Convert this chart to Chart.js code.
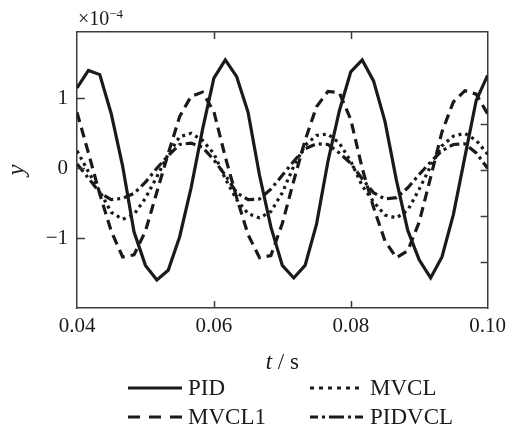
<!DOCTYPE html>
<html>
<head>
<meta charset="utf-8">
<script src="https://cdn.jsdelivr.net/npm/chart.js@4.4.0/dist/chart.umd.min.js"></script>
<style>
  html, body { margin: 0; padding: 0; background: #fff; }
</style>
</head>
<body>
<canvas id="myChart" width="512" height="425"></canvas>
<script>
// *** DONNEES (unite y : x10^-4) ***

// Instants d'echantillonnage (s)
const temps = [0.04, 0.04167, 0.04333, 0.045, 0.04667, 0.04833, 0.05, 0.05167, 0.05333, 0.055,
    0.05667, 0.05833, 0.06, 0.06167, 0.06333, 0.065, 0.06667, 0.06833, 0.07, 0.07167,
    0.07333, 0.075, 0.07667, 0.07833, 0.08, 0.08167, 0.08333, 0.085, 0.08667, 0.08833,
    0.09, 0.09167, 0.09333, 0.095, 0.09667, 0.09833, 0.1];

const yPID = [1.15, 1.40, 1.34, 0.78, 0.03, -0.91, -1.39, -1.60, -1.46, -0.98,
    -0.28, 0.55, 1.29, 1.55, 1.31, 0.80, -0.10, -0.84, -1.39, -1.57,
    -1.39, -0.80, 0.10, 0.82, 1.38, 1.55, 1.25, 0.67, -0.17, -0.89,
    -1.31, -1.57, -1.27, -0.66, 0.16, 0.97, 1.33];

const yMVCL1 = [0.80, 0.22, -0.37, -0.90, -1.27, -1.24, -0.90, -0.34, 0.21, 0.74,
    1.03, 1.09, 0.81, 0.16, -0.42, -0.95, -1.28, -1.25, -0.79, -0.18,
    0.40, 0.88, 1.10, 1.08, 0.70, 0.00, -0.56, -1.04, -1.28, -1.18,
    -0.77, -0.13, 0.52, 0.95, 1.11, 1.06, 0.78];

const yMVCL = [0.25, -0.05, -0.33, -0.63, -0.73, -0.66, -0.43, -0.12, 0.20, 0.45,
    0.50, 0.40, 0.21, -0.15, -0.45, -0.65, -0.71, -0.62, -0.35, 0.03,
    0.33, 0.47, 0.49, 0.36, 0.10, -0.25, -0.48, -0.67, -0.71, -0.60,
    -0.30, 0.03, 0.32, 0.46, 0.50, 0.40, 0.20];

const yPIDVCL = [0.06, -0.14, -0.35, -0.45, -0.43, -0.36, -0.20, 0.00, 0.18, 0.34,
    0.36, 0.30, 0.12, -0.10, -0.35, -0.45, -0.44, -0.30, -0.10, 0.10,
    0.28, 0.35, 0.34, 0.22, 0.07, -0.15, -0.35, -0.44, -0.42, -0.28,
    -0.09, 0.09, 0.25, 0.34, 0.35, 0.22, 0.00];

// Graduations
const xTicks = [0.04, 0.06, 0.08, 0.10];
const xTopTicks = [0.06, 0.08];
const yTicks = [-1, 0, 1];
const yRightTicks = [1, 2, 3, 4];   // graduations decalees de l'axe de droite (comme sur la figure)

// Legende
const legendLabels = ['PID', 'MVCL1', 'MVCL', 'PIDVCL'];


// *** STYLE ***
const ink = '#1a1a1a';
const axisColor = '#3c3c3c';
const serif = '"Liberation Serif", "Times New Roman", serif';

// Plugin : graduations vers l'interieur, facteur x10^-4, titre de l'axe x et legende
const decorPlugin = {
    id: 'decor',
    afterDraw(chart) {
        const ctx = chart.ctx;
        const area = chart.chartArea;
        const s = chart.scales;
        ctx.save();

        // graduations interieures
        ctx.strokeStyle = axisColor;
        ctx.lineWidth = 1.5;
        ctx.beginPath();
        for (const v of xTopTicks) {
            const px = Math.round(s.x.getPixelForValue(v)) + 0.5;
            ctx.moveTo(px, area.bottom); ctx.lineTo(px, area.bottom - 7);
            ctx.moveTo(px, area.top); ctx.lineTo(px, area.top + 7);
        }
        for (const v of yTicks) {
            const py = Math.round(s.y.getPixelForValue(v)) + 0.5;
            ctx.moveTo(area.left, py); ctx.lineTo(area.left + 8, py);
        }
        for (const v of yRightTicks) {
            const py = Math.round(s.y2.getPixelForValue(v)) + 0.5;
            ctx.moveTo(area.right, py); ctx.lineTo(area.right - 7, py);
        }
        ctx.stroke();

        // facteur d'echelle x10^-4
        ctx.fillStyle = ink;
        ctx.textBaseline = 'alphabetic';
        ctx.textAlign = 'left';
        ctx.font = '20px ' + serif;
        ctx.fillText('\u00d710', area.left + 1, 25);
        const w10 = ctx.measureText('\u00d710').width;
        ctx.font = '13px ' + serif;
        ctx.fillText('\u22124', area.left + 1 + w10, 18);

        // titre de l'axe x : t / s
        const cx = (area.left + area.right) / 2;
        ctx.font = 'italic 23px ' + serif;
        const wt = ctx.measureText('t').width;
        ctx.font = '23px ' + serif;
        const ws = ctx.measureText(' / s').width;
        const x0 = cx - (wt + ws) / 2;
        ctx.font = 'italic 23px ' + serif;
        ctx.fillText('t', x0, 369);
        ctx.font = '23px ' + serif;
        ctx.fillText(' / s', x0 + wt, 369);

        // legende sur 2 colonnes
        const cols = [128, 310];
        const rows = [388, 417];
        chart.data.datasets.forEach((ds, i) => {
            const lx = cols[Math.floor(i / 2)];
            const ly = rows[i % 2];
            ctx.strokeStyle = ds.borderColor;
            ctx.lineWidth = 3.2;
            ctx.setLineDash(ds.legendDash || ds.borderDash || []);
            ctx.beginPath();
            ctx.moveTo(lx, ly);
            ctx.lineTo(lx + 54, ly);
            ctx.stroke();
            ctx.setLineDash([]);
            ctx.font = '23px ' + serif;
            ctx.fillStyle = ink;
            ctx.fillText(ds.label, lx + 60, ly + 7);
        });

        ctx.restore();
    }
};

const ligne = (label, data, dash, legendDash) => ({
    label: label,
    data: data,
    borderColor: ink,
    borderWidth: 3.2,
    borderDash: dash,
    legendDash: legendDash,
    pointRadius: 0,
    tension: 0,
    fill: false
});

const ctx = document.getElementById('myChart');
new Chart(ctx, {
    type: 'line',
    data: {
        labels: temps,
        datasets: [
            ligne(legendLabels[0], yPID, [], []),
            ligne(legendLabels[1], yMVCL1, [10, 6], [12, 9]),
            ligne(legendLabels[2], yMVCL, [3, 4], [4, 5]),
            ligne(legendLabels[3], yPIDVCL, [10, 4, 3, 4], [8, 4, 3, 4, 15, 4, 3, 4, 8, 100])
        ]
    },
    options: {
        responsive: false,
        animation: false,
        devicePixelRatio: 1,
        layout: { padding: 0 },
        plugins: {
            legend: { display: false },
            tooltip: { enabled: false }
        },
        scales: {
            x: {
                type: 'linear',
                position: 'bottom',
                min: 0.04,
                max: 0.10,
                afterBuildTicks: (scale) => { scale.ticks = xTicks.map(v => ({ value: v })); },
                afterFit: (scale) => { scale.height = 117; },
                grid: { display: false, drawTicks: false },
                border: { display: true, color: axisColor, width: 1.5 },
                ticks: {
                    callback: (v) => v.toFixed(2),
                    font: { family: serif, size: 21 },
                    color: ink,
                    padding: 6,
                    maxRotation: 0,
                    autoSkip: false
                }
            },
            x2: {
                type: 'linear',
                position: 'top',
                min: 0.04,
                max: 0.10,
                afterBuildTicks: (scale) => { scale.ticks = xTopTicks.map(v => ({ value: v })); },
                afterFit: (scale) => { scale.height = 32; },
                grid: { display: false, drawTicks: false },
                border: { display: true, color: axisColor, width: 1.5 },
                ticks: { display: false }
            },
            y: {
                type: 'linear',
                position: 'left',
                min: -2,
                max: 1.95,
                afterBuildTicks: (scale) => { scale.ticks = yTicks.map(v => ({ value: v })); },
                afterFit: (scale) => { scale.width = 77; },
                grid: { display: false, drawTicks: false },
                border: { display: true, color: axisColor, width: 1.5 },
                ticks: {
                    callback: (v) => (v < 0 ? '\u2212' + Math.abs(v) : String(v)),
                    font: { family: serif, size: 21 },
                    color: ink,
                    padding: 9
                },
                title: {
                    display: true,
                    text: 'y',
                    font: { family: serif, size: 25, style: 'italic' },
                    color: ink,
                    padding: { top: 2, bottom: 0 }
                }
            },
            y2: {
                type: 'linear',
                position: 'right',
                min: 0,
                max: 6,
                afterBuildTicks: (scale) => { scale.ticks = yRightTicks.map(v => ({ value: v })); },
                afterFit: (scale) => { scale.width = 20; },
                grid: { display: false, drawTicks: false },
                border: { display: true, color: axisColor, width: 1.5 },
                ticks: { display: false }
            }
        }
    },
    plugins: [decorPlugin]
});
</script>
</body>
</html>
